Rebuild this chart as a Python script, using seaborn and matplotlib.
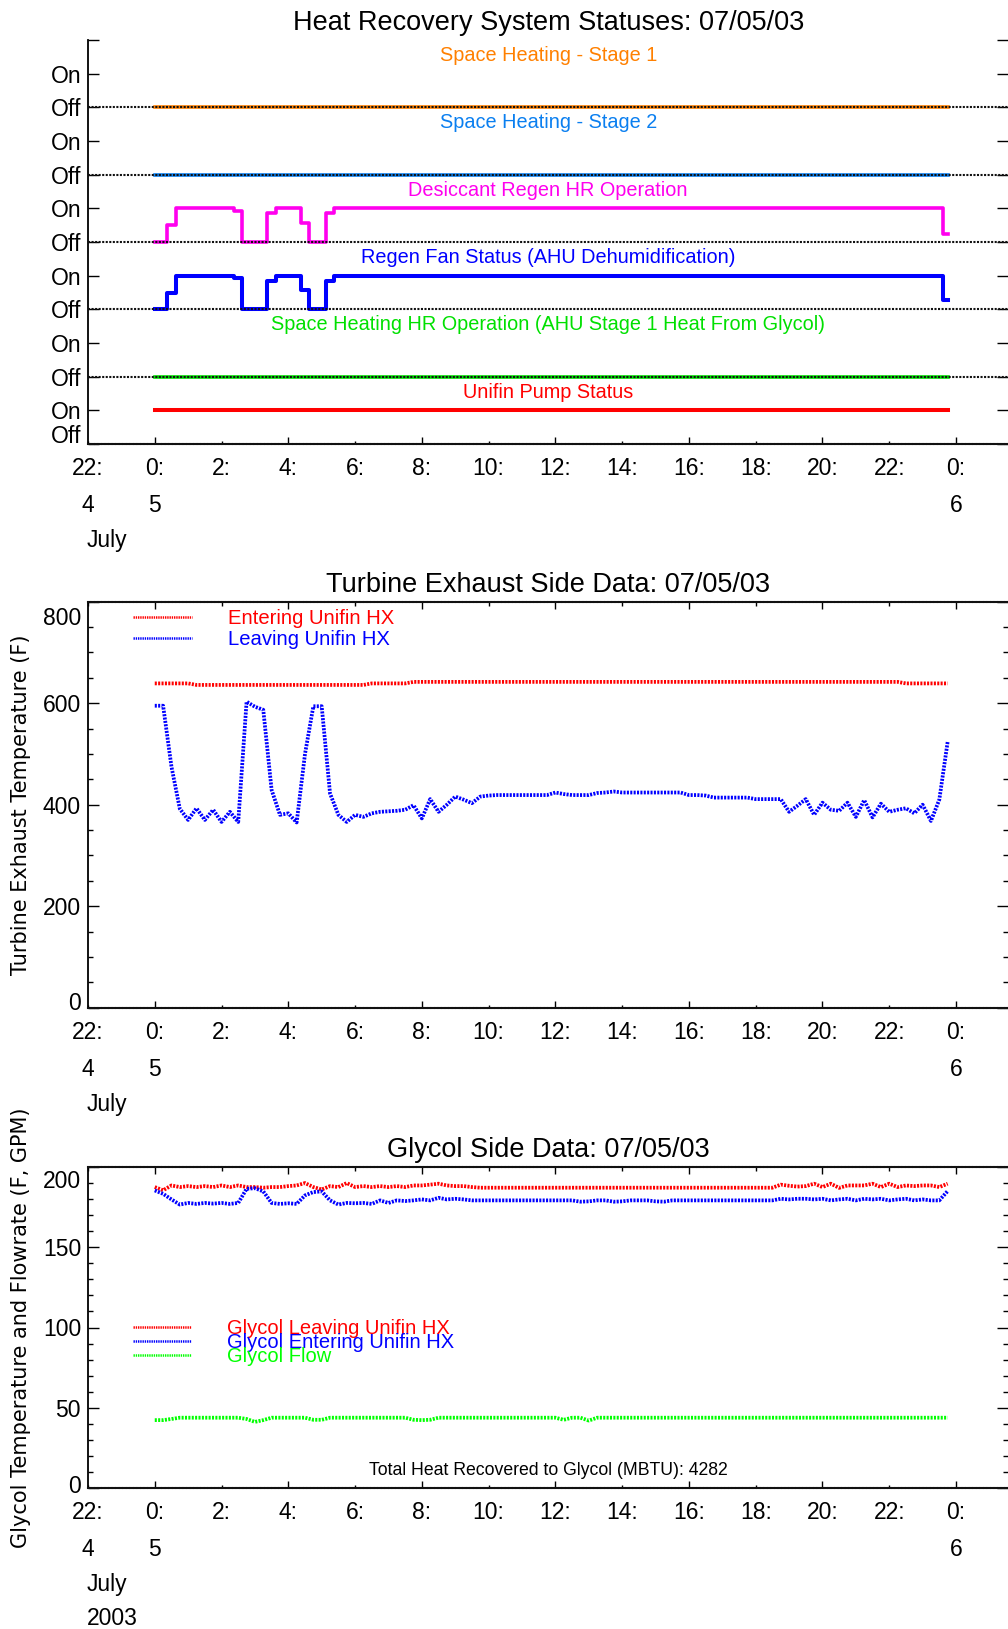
import numpy as np
import matplotlib
matplotlib.use("Agg")
import matplotlib.pyplot as plt
import matplotlib.ticker as mticker
from matplotlib.transforms import ScaledTranslation
import seaborn as sns

# ---------------- data: 15-minute samples on 07/05/03 ----------------
HOURS = np.arange(0, 24, 0.25)

# Panel 1 : status (fraction of interval On), bottom band first
UNIFIN_PUMP = [1.0] * 96
SPACE_HEAT_HR = [0.0] * 96
REGEN_FAN = ([0, 0, 0.5] + [1] * 7 + [0.94] + [0] * 3 + [0.84] + [1] * 3 + [0.56]
             + [0] * 2 + [0.85] + [1] * 73 + [0.27])
DESICCANT_REGEN = ([0, 0, 0.5] + [1] * 7 + [0.93] + [0] * 3 + [0.86] + [1] * 3 + [0.56]
                   + [0] * 2 + [0.85] + [1] * 73 + [0.23])
SPACE_HEAT_STAGE2 = [0.0] * 96
SPACE_HEAT_STAGE1 = [0.0] * 96

STATUS_SERIES = [UNIFIN_PUMP, SPACE_HEAT_HR, REGEN_FAN, DESICCANT_REGEN,
                 SPACE_HEAT_STAGE2, SPACE_HEAT_STAGE1]
STATUS_LABELS = ["Unifin Pump Status",
                 "Space Heating HR Operation (AHU Stage 1 Heat From Glycol)",
                 "Regen Fan Status (AHU Dehumidification)",
                 "Desiccant Regen HR Operation",
                 "Space Heating - Stage 2",
                 "Space Heating - Stage 1"]
STATUS_COLORS = ["#ff0000", "#00e000", "#0000ff", "#ff00ee", "#0a7ff0", "#ff8000"]
STATUS_TICKS = [0, 0.5, 1, 1.5, 2, 2.5, 3, 3.5, 4, 4.5, 5, 5.5, 6]
STATUS_TICK_LABELS = ["Off", "On"] * 6 + [""]

# Panel 2 : turbine exhaust side (F)
ENTERING_UNIFIN = [639] * 5 + [636] * 21 + [639] * 5 + [642] * 59 + [639] * 6
LEAVING_UNIFIN = [595, 595, 475, 392, 370, 393, 370, 390, 366, 386, 366, 603, 593, 587, 429, 380,
                  383, 365, 500, 594, 594, 422, 380, 366, 380, 376, 383, 386, 387, 388, 390, 399,
                  373, 411, 386, 400, 416, 410, 403, 416, 418, 419, 419, 419, 419, 419, 419, 419,
                  424, 421, 419, 419, 419, 423, 424, 426, 424, 424, 424, 424, 424, 424, 424, 424,
                  419, 419, 418, 414, 414, 414, 414, 414, 411, 411, 411, 411, 386, 398, 411, 380,
                  404, 390, 388, 404, 376, 409, 375, 402, 386, 390, 393, 383, 400, 368, 410, 524]
TEMP_TICKS = [0, 200, 400, 600, 800]

# Panel 3 : glycol side (F, GPM)
GLYCOL_LEAVING = [187.5, 185.5, 188.5, 187.5, 188.1, 187.5, 188.1, 187.5, 188.5, 187.5, 188.5, 187.5,
                  187.5, 187.1, 187.5, 187.5, 188.1, 188.5, 190.0, 187.5, 186.0, 188.1, 187.5, 190.0,
                  187.5, 188.1, 187.5, 188.1, 187.5, 188.1, 187.5, 188.5, 188.5, 189.0, 189.6, 188.5,
                  188.1, 188.1, 187.5] + [187.1] * 36 + \
                 [189.0, 188.3, 187.8, 188.1, 189.6, 187.5, 189.6, 187.0, 188.5, 188.5, 188.5, 189.6,
                  187.5, 189.6, 187.5, 188.5, 188.1, 188.5, 188.5, 187.5, 189.6]
GLYCOL_ENTERING = [185.4, 183.3, 179.8, 176.6, 177.6, 177.0, 177.6, 177.2, 177.6, 177.0, 177.6, 186.4,
                   186.8, 184.8, 177.6, 177.0, 177.4, 177.0, 182.3, 184.4, 184.8, 179.2, 176.6, 177.6,
                   177.4, 177.6, 177.0, 179.2, 177.6, 179.2, 178.8, 179.2, 179.8, 179.2, 180.8, 179.8,
                   180.2, 179.8, 179.2, 179.2, 179.2, 179.2, 179.2, 179.2, 179.2, 179.2, 179.2, 179.2,
                   179.2, 179.2, 179.2, 178.4, 178.6, 179.2, 179.2, 178.4, 178.6, 179.2, 179.2, 179.2,
                   178.6, 178.4, 179.2, 179.2, 179.2, 179.2, 179.2, 179.2, 179.2, 179.2, 179.2, 179.2,
                   179.2, 179.2, 179.2, 180.2, 179.8, 180.2, 180.2, 179.8, 180.2, 179.2, 179.8, 180.2,
                   179.2, 180.2, 179.8, 180.2, 179.2, 179.8, 180.2, 179.2, 179.8, 179.2, 179.2, 185.0]
GLYCOL_FLOW = ([42.3, 42.3, 43.0] + [43.8] * 8 + [43.0, 41.2, 42.3] + [43.8] * 5 + [42.5, 42.5]
               + [43.8] * 10 + [42.5, 42.3, 42.5] + [43.8] * 15 + [42.5, 43.8, 43.8, 42.0]
               + [43.8] * 43)
GLYCOL_TICKS = [0, 50, 100, 150, 200]
TOTAL_HEAT_MBTU = 4282

# axis ticks
X_MAJOR_HOURS = [0, 4, 8, 12, 16, 20, 24]
X_MAJOR_LABELS = ["0:", "4:", "8:", "12:", "16:", "20:", "0:"]
X_MINOR_HOURS = [-2, 2, 6, 10, 14, 18, 22]
X_MINOR_LABELS = ["22:", "2:", "6:", "10:", "14:", "18:", "22:"]
DAY_HOURS = [-2, 0, 24]
DAY_LABELS = ["4", "5", "6"]

# ---------------- figure ----------------
plt.rcParams["font.family"] = ["Liberation Sans", "DejaVu Sans"]
W, H = 1008, 1629
fig = plt.figure(figsize=(W / 100, H / 100), dpi=100)

LEFT_PX, RIGHT_PX = 88, 1008.5


def add_ax(top_px, bottom_px):
    return fig.add_axes([LEFT_PX / W, 1 - bottom_px / H, (RIGHT_PX - LEFT_PX) / W,
                         (bottom_px - top_px) / H])


ax1 = add_ax(40, 444)
ax2 = add_ax(601.7, 1007.7)
ax3 = add_ax(1167, 1488)

PX = 0.72  # points per pixel
TICK_FS = 16.5
DOT = (0, (0.55, 0.35))
DATA_LW = 2.7


def style_x(ax, top, year=False):
    ax.set_xlim(-2, 24 + (RIGHT_PX - 956) / 33.385)
    ax.xaxis.set_major_locator(mticker.FixedLocator(X_MAJOR_HOURS))
    ax.xaxis.set_major_formatter(mticker.FixedFormatter(X_MAJOR_LABELS))
    ax.xaxis.set_minor_locator(mticker.FixedLocator(X_MINOR_HOURS))
    ax.xaxis.set_minor_formatter(mticker.FixedFormatter(X_MINOR_LABELS))
    ax.tick_params(axis="x", which="both", direction="in", top=top, bottom=True,
                   labelsize=TICK_FS, pad=9.4, width=1.0, color="black")
    ax.tick_params(axis="x", which="major", length=7 * PX)
    ax.tick_params(axis="x", which="minor", length=3.5 * PX)
    for h, t in zip(DAY_HOURS, DAY_LABELS):
        ax.annotate(t, xy=(h, 0), xycoords=("data", "axes fraction"),
                    xytext=(0, -50 * PX), textcoords="offset points",
                    ha="center", va="top", fontsize=TICK_FS)
    ax.annotate("July", xy=(-2, 0), xycoords=("data", "axes fraction"),
                xytext=(-1, -85 * PX), textcoords="offset points",
                ha="left", va="top", fontsize=TICK_FS)
    if year:
        ax.annotate("2003", xy=(-2, 0), xycoords=("data", "axes fraction"),
                    xytext=(-1, -119 * PX), textcoords="offset points",
                    ha="left", va="top", fontsize=TICK_FS)


def style_spines(ax, top_visible):
    ax.spines["right"].set_visible(False)
    ax.spines["left"].set_linewidth(1.3)
    ax.spines["left"].set_color("black")
    for s in ["top", "bottom"]:
        ax.spines[s].set_linewidth(1.5)
        ax.spines[s].set_color("#111111")
        ax.spines[s].set_linestyle((0, (1, 0.7)))
    ax.spines["top"].set_visible(top_visible)


def shift_ylabel(ax, idx, dy_px):
    lab = ax.yaxis.get_major_ticks()[idx].label1
    lab.set_transform(lab.get_transform() + ScaledTranslation(0, dy_px / 100, fig.dpi_scale_trans))


def style_legend(leg):
    for h in leg.legend_handles:
        h.set_linewidth(1.8)


# ---------------- panel 1 : statuses ----------------
for band, (vals, col) in enumerate(zip(STATUS_SERIES, STATUS_COLORS)):
    lw = 2.9 if band in (0, 2) else 2.6
    sns.lineplot(x=HOURS, y=band + 0.5 * np.asarray(vals, dtype=float), ax=ax1, color=col,
                 lw=lw, drawstyle="steps-mid", estimator=None, errorbar=None, zorder=2)
for band, (lab, col) in enumerate(zip(STATUS_LABELS, STATUS_COLORS)):
    ax1.text(0.5, band + 0.77, lab, transform=ax1.get_yaxis_transform(), ha="center",
             va="center", color=col, fontsize=14.3)
for band in range(1, 6):
    ax1.axhline(band, color="#111111", lw=1.5, ls=(0, (1, 0.7)), zorder=3)
ax1.set_ylim(0, 6)
ax1.yaxis.set_major_locator(mticker.FixedLocator(STATUS_TICKS))
ax1.yaxis.set_major_formatter(mticker.FixedFormatter(STATUS_TICK_LABELS))
ax1.tick_params(axis="y", which="both", direction="in", left=True, right=True,
                length=11 * PX, width=1.0, labelsize=TICK_FS, pad=5)
style_x(ax1, top=False)
style_spines(ax1, top_visible=False)
ax1.set_title("Heat Recovery System Statuses: 07/05/03", fontsize=19.5, pad=7)
ax1.set_xlabel("")
ax1.set_ylabel("")
shift_ylabel(ax1, 0, 10)

# ---------------- panel 2 : turbine exhaust ----------------
sns.lineplot(x=HOURS, y=ENTERING_UNIFIN, ax=ax2, color="#ff0000", lw=DATA_LW, linestyle=DOT,
             estimator=None, errorbar=None, label="Entering Unifin HX")
sns.lineplot(x=HOURS, y=LEAVING_UNIFIN, ax=ax2, color="#0000ff", lw=DATA_LW, linestyle=DOT,
             estimator=None, errorbar=None, label="Leaving Unifin HX")
ax2.set_ylim(0, 800)
ax2.yaxis.set_major_locator(mticker.FixedLocator(TEMP_TICKS))
ax2.yaxis.set_minor_locator(mticker.MultipleLocator(50))
ax2.tick_params(axis="y", which="both", direction="in", left=True, right=True,
                width=1.0, labelsize=TICK_FS, pad=5)
ax2.tick_params(axis="y", which="major", length=11 * PX)
ax2.tick_params(axis="y", which="minor", length=5 * PX)
style_x(ax2, top=True)
style_spines(ax2, top_visible=True)
ax2.set_title("Turbine Exhaust Side Data: 07/05/03", fontsize=19.5, pad=7)
ax2.set_xlabel("")
ax2.set_ylabel("Turbine Exhaust Temperature (F)", fontsize=15, family=["DejaVu Sans"])
ax2.yaxis.set_label_coords(-0.062, 0.5)
leg2 = ax2.legend(loc="upper left", bbox_to_anchor=(0.0492, 0.981), frameon=False, fontsize=14.6,
                  handlelength=2.88, handletextpad=1.78, labelspacing=0.07, borderpad=0,
                  borderaxespad=0, labelcolor="linecolor")
style_legend(leg2)
shift_ylabel(ax2, 0, 7)
shift_ylabel(ax2, 4, -14)

# ---------------- panel 3 : glycol side ----------------
sns.lineplot(x=HOURS, y=GLYCOL_LEAVING, ax=ax3, color="#ff0000", lw=DATA_LW, linestyle=DOT,
             estimator=None, errorbar=None, label="Glycol Leaving Unifin HX")
sns.lineplot(x=HOURS, y=GLYCOL_ENTERING, ax=ax3, color="#0000ff", lw=DATA_LW, linestyle=DOT,
             estimator=None, errorbar=None, label="Glycol Entering Unifin HX")
sns.lineplot(x=HOURS, y=GLYCOL_FLOW, ax=ax3, color="#00ff00", lw=DATA_LW, linestyle=DOT,
             estimator=None, errorbar=None, label="Glycol Flow")
ax3.set_ylim(0, 200)
ax3.yaxis.set_major_locator(mticker.FixedLocator(GLYCOL_TICKS))
ax3.yaxis.set_minor_locator(mticker.MultipleLocator(10))
ax3.tick_params(axis="y", which="both", direction="in", left=True, right=True,
                width=1.0, labelsize=TICK_FS, pad=5)
ax3.tick_params(axis="y", which="major", length=11 * PX)
ax3.tick_params(axis="y", which="minor", length=5 * PX)
style_x(ax3, top=True, year=True)
style_spines(ax3, top_visible=True)
ax3.set_title("Glycol Side Data: 07/05/03", fontsize=19.5, pad=7)
ax3.set_xlabel("")
ax3.set_ylabel("Glycol Temperature and Flowrate (F, GPM)", fontsize=15, family=["DejaVu Sans"])
ax3.yaxis.set_label_coords(-0.062, 0.5)
leg3 = ax3.legend(loc="upper left", bbox_to_anchor=(0.0492, 0.525), frameon=False, fontsize=14.5,
                  handlelength=2.88, handletextpad=1.78, labelspacing=-0.26, borderpad=0,
                  borderaxespad=0, labelcolor="linecolor")
style_legend(leg3)
ax3.text(0.5, 0.055, f"Total Heat Recovered to Glycol (MBTU): {TOTAL_HEAT_MBTU}",
         transform=ax3.transAxes, ha="center", va="center", fontsize=12.7, color="black")
shift_ylabel(ax3, 0, 4)
shift_ylabel(ax3, 4, -12)

fig.savefig("out.png", dpi=100, facecolor="white")
